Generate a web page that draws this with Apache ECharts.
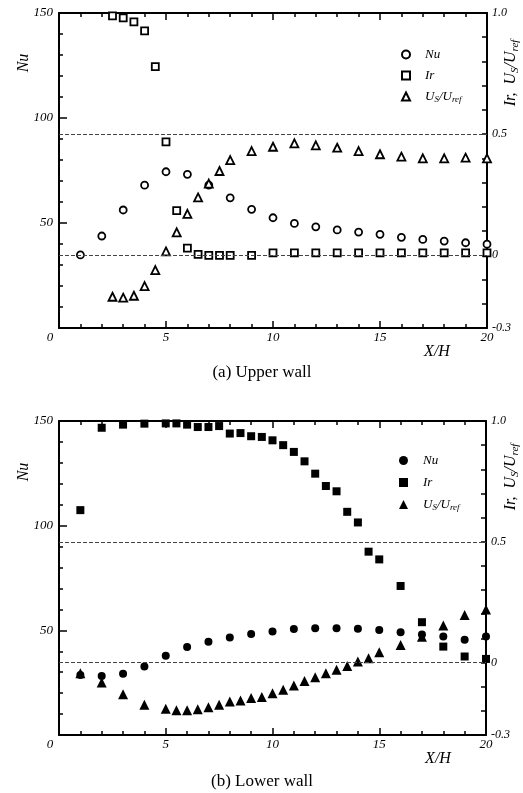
<!DOCTYPE html>
<html>
<head>
<meta charset="utf-8">
<title>Nu, Ir, Us/Uref - upper and lower wall</title>
<script src="https://cdn.jsdelivr.net/npm/echarts/dist/echarts.min.js"></script>
<style>
    html, body { margin: 0; padding: 0; background: #fff; }
    #main { width: 523px; height: 793px; }
</style>
</head>
<body>
<div id="main"></div>
<script>
// ---- data ----
// (a) upper wall
var upNuX = [1, 2, 3, 4, 5, 6, 7, 8, 9, 10, 11, 12, 13, 14, 15, 16, 17, 18, 19, 20];
var upNu = [34.8, 43.8, 56.2, 68, 74.4, 73.2, 68, 62, 56.5, 52.5, 49.8, 48.2, 46.7, 45.7, 44.6, 43.2, 42.2, 41.4, 40.6, 39.9];
var upIrX = [2.5, 3, 3.5, 4, 4.5, 5, 5.5, 6, 6.5, 7, 7.5, 8, 9, 10, 11, 12, 13, 14, 15, 16, 17, 18, 19, 20];
var upIr = [0.988, 0.98, 0.963, 0.926, 0.779, 0.468, 0.184, 0.03, 0.004, 0, 0, 0, 0, 0.01, 0.01, 0.01, 0.01, 0.01, 0.01, 0.01, 0.01, 0.01, 0.01, 0.01];
var upUsX = [2.5, 3, 3.5, 4, 4.5, 5, 5.5, 6, 6.5, 7, 7.5, 8, 9, 10, 11, 12, 13, 14, 15, 16, 17, 18, 19, 20];
var upUs = [-0.171, -0.175, -0.167, -0.127, -0.061, 0.016, 0.095, 0.171, 0.239, 0.296, 0.348, 0.393, 0.43, 0.448, 0.462, 0.454, 0.444, 0.43, 0.417, 0.407, 0.4, 0.4, 0.403, 0.4];

// (b) lower wall
var loNuX = [1, 2, 3, 4, 5, 6, 7, 8, 9, 10, 11, 12, 13, 14, 15, 16, 17, 18, 19, 20];
var loNu = [28.7, 28.2, 29.2, 32.7, 37.8, 42, 44.6, 46.6, 48.2, 49.4, 50.6, 51, 51, 50.8, 50.2, 49.1, 48, 47, 45.5, 47];
var loIrX = [1, 2, 3, 4, 5, 5.5, 6, 6.5, 7, 7.5, 8, 8.5, 9, 9.5, 10, 10.5, 11, 11.5, 12, 12.5, 13, 13.5, 14, 14.5, 15, 16, 17, 18, 19, 20];
var loIr = [0.631, 0.972, 0.985, 0.989, 0.99, 0.99, 0.985, 0.975, 0.975, 0.979, 0.948, 0.95, 0.937, 0.934, 0.92, 0.9, 0.872, 0.833, 0.782, 0.731, 0.709, 0.624, 0.58, 0.459, 0.427, 0.317, 0.167, 0.066, 0.025, 0.015];
var loUsX = [1, 2, 3, 4, 5, 5.5, 6, 6.5, 7, 7.5, 8, 8.5, 9, 9.5, 10, 10.5, 11, 11.5, 12, 12.5, 13, 13.5, 14, 14.5, 15, 16, 17, 18, 19, 20];
var loUs = [-0.044, -0.083, -0.131, -0.175, -0.191, -0.198, -0.198, -0.193, -0.185, -0.175, -0.161, -0.157, -0.147, -0.143, -0.127, -0.113, -0.095, -0.076, -0.061, -0.044, -0.03, -0.014, 0.004, 0.018, 0.043, 0.073, 0.107, 0.153, 0.197, 0.22];

var refLines = [0, 0.5];          // dotted reference lines on the right axis
var rightLabels = ['1.0', '0.5', '0', '-0.3'];

var serif = '"Liberation Serif", "DejaVu Serif", serif';
var ink = '#000';

function pairs(xs, ys) {
    var out = [];
    for (var i = 0; i < xs.length; i++) out.push([xs[i], ys[i]]);
    return out;
}

var rich = {
    i: { fontFamily: serif, fontStyle: 'italic', fontSize: 13, lineHeight: 16, color: ink },
    s: { fontFamily: serif, fontStyle: 'italic', fontSize: 9, lineHeight: 6, verticalAlign: 'bottom', color: ink }
};
var legendText = {
    Nu_a: '{i|Nu}', Ir_a: '{i|Ir}', Us_a: '{i|U}{s|S}{i|/U}{s|ref}',
    Nu_b: '{i|Nu}', Ir_b: '{i|Ir}', Us_b: '{i|U}{s|S}{i|/U}{s|ref}'
};

function xAxis(grid, pos) {
    return {
        type: 'value', gridIndex: grid, position: pos, min: 0, max: 20, interval: 5,
        axisLine: { show: true, onZero: false, lineStyle: { color: ink, width: 2 } },
        axisTick: { inside: true, length: 7, lineStyle: { color: ink, width: 1.5 } },
        minorTick: { show: true, splitNumber: 5, length: 4, lineStyle: { color: ink, width: 1.5 } },
        splitLine: { show: false },
        axisLabel: {
            show: pos === 'bottom',
            margin: 3, fontFamily: serif, fontStyle: 'italic', fontSize: 13, color: ink,
            formatter: function (v) { return v === 0 ? '{z|0}' : String(v); },
            rich: { z: { padding: [0, 18, 0, 0], fontFamily: serif, fontStyle: 'italic', fontSize: 13, color: ink } }
        }
    };
}

function yAxes(grid) {
    var left = {
        type: 'value', gridIndex: grid, position: 'left', min: 0, max: 150, interval: 50,
        axisLine: { show: true, onZero: false, lineStyle: { color: ink, width: 2 } },
        axisTick: { inside: true, length: 8, lineStyle: { color: ink, width: 1.5 } },
        minorTick: { show: true, splitNumber: 5, length: 4, lineStyle: { color: ink, width: 1.5 } },
        splitLine: { show: false },
        axisLabel: {
            margin: 6, fontFamily: serif, fontStyle: 'italic', fontSize: 13, color: ink,
            formatter: function (v) { return v === 0 ? '' : String(v); }
        }
    };
    var right = {
        type: 'value', gridIndex: grid, position: 'right', min: -0.3, max: 1.0, interval: 0.1,
        axisLine: { show: true, onZero: false, lineStyle: { color: ink, width: 2 } },
        axisTick: { inside: true, length: 5, lineStyle: { color: ink, width: 1.5 } },
        splitLine: { show: false },
        axisLabel: {
            margin: 5, fontFamily: serif, fontStyle: 'italic', fontSize: 12, color: ink,
            formatter: function (v) {
                for (var k = 0; k < rightLabels.length; k++) {
                    if (Math.abs(v - parseFloat(rightLabels[k])) < 1e-6) return rightLabels[k];
                }
                return '';
            }
        }
    };
    return [left, right];
}

function openStyle() {
    return { color: '#fff', borderColor: ink, borderWidth: 1.8, opacity: 1 };
}
function fullStyle() {
    return { color: ink, borderColor: ink, borderWidth: 0, opacity: 1 };
}

function panelSeries(tag, grid, nu, ir, us, open) {
    var st = open ? openStyle : fullStyle;
    var xi = grid * 2, yl = grid * 2, yr = grid * 2 + 1;
    return [
        { name: 'Nu_' + tag, type: 'scatter', xAxisIndex: xi, yAxisIndex: yl, data: nu,
          symbol: 'circle', symbolSize: open ? 7 : 8, itemStyle: st() },
        { name: 'Ir_' + tag, type: 'scatter', xAxisIndex: xi, yAxisIndex: yr, data: ir,
          symbol: 'rect', symbolSize: open ? 7 : 8, itemStyle: st(),
          markLine: {
              silent: true, symbol: ['none', 'none'], label: { show: false },
              lineStyle: { type: [4, 2], color: '#444', width: 1 },
              data: refLines.map(function (v) { return { yAxis: v }; })
          } },
        { name: 'Us_' + tag, type: 'scatter', xAxisIndex: xi, yAxisIndex: yr, data: us,
          symbol: 'triangle', symbolSize: open ? 8 : 10, itemStyle: st() }
    ];
}

function rotLabel(x, y, text) {
    return {
        type: 'text', x: x, y: y, rotation: Math.PI / 2,
        style: {
            text: text, rich: {
                i: { fontFamily: serif, fontStyle: 'italic', fontSize: 16, lineHeight: 20, fill: ink },
                s: { fontFamily: serif, fontStyle: 'italic', fontSize: 11, lineHeight: 8, verticalAlign: 'bottom', fill: ink }
            },
            align: 'center', verticalAlign: 'middle', fill: ink
        }
    };
}
function plainText(x, y, text, size, italic) {
    return {
        type: 'text', x: x, y: y,
        style: {
            text: text, fontFamily: serif, fontSize: size, fontStyle: italic ? 'italic' : 'normal',
            fill: ink, align: 'center', verticalAlign: 'middle'
        }
    };
}

var dom = document.getElementById('main');
var myChart = echarts.init(dom, null, { renderer: 'canvas' });

var option = {
    animation: false,
    backgroundColor: '#fff',
    grid: [
        { left: 59, top: 13, width: 428, height: 315 },
        { left: 59, top: 421, width: 427, height: 314 }
    ],
    legend: [
        { data: ['Nu_a', 'Ir_a', 'Us_a'], orient: 'vertical', left: 396, top: 43, itemGap: 8,
          itemWidth: 8, itemHeight: 8, selectedMode: false,
          formatter: function (n) { return legendText[n]; },
          textStyle: { padding: [0, 0, 0, 10], rich: rich } },
        { data: ['Nu_b', 'Ir_b', 'Us_b'], orient: 'vertical', left: 394, top: 449, itemGap: 9,
          itemWidth: 9, itemHeight: 9, selectedMode: false,
          formatter: function (n) { return legendText[n]; },
          textStyle: { padding: [0, 0, 0, 10], rich: rich } }
    ],
    // 0: bottom of (a), 1: top of (a), 2: bottom of (b), 3: top of (b)
    xAxis: [xAxis(0, 'bottom'), xAxis(0, 'top'), xAxis(1, 'bottom'), xAxis(1, 'top')],
    yAxis: yAxes(0).concat(yAxes(1)),
    series: [].concat(
        panelSeries('a', 0, pairs(upNuX, upNu), pairs(upIrX, upIr), pairs(upUsX, upUs), true),
        panelSeries('b', 1, pairs(loNuX, loNu), pairs(loIrX, loIr), pairs(loUsX, loUs), false)
    ),
    graphic: [
        rotLabel(24, 63, '{i|Nu}'),
        rotLabel(24, 472, '{i|Nu}'),
        rotLabel(511, 73, '{i|Ir,}{i|  U}{s|S}{i|/U}{s|ref}'),
        rotLabel(511, 477, '{i|Ir,}{i|  U}{s|S}{i|/U}{s|ref}'),
        plainText(437, 352, 'X/H', 16, true),
        plainText(438, 759, 'X/H', 16, true),
        plainText(262, 373, '(a) Upper wall', 17, false),
        plainText(262, 782, '(b) Lower wall', 17, false)
    ]
};

if (option && typeof option === "object") {
    myChart.setOption(option, true);
}
</script>
</body>
</html>
